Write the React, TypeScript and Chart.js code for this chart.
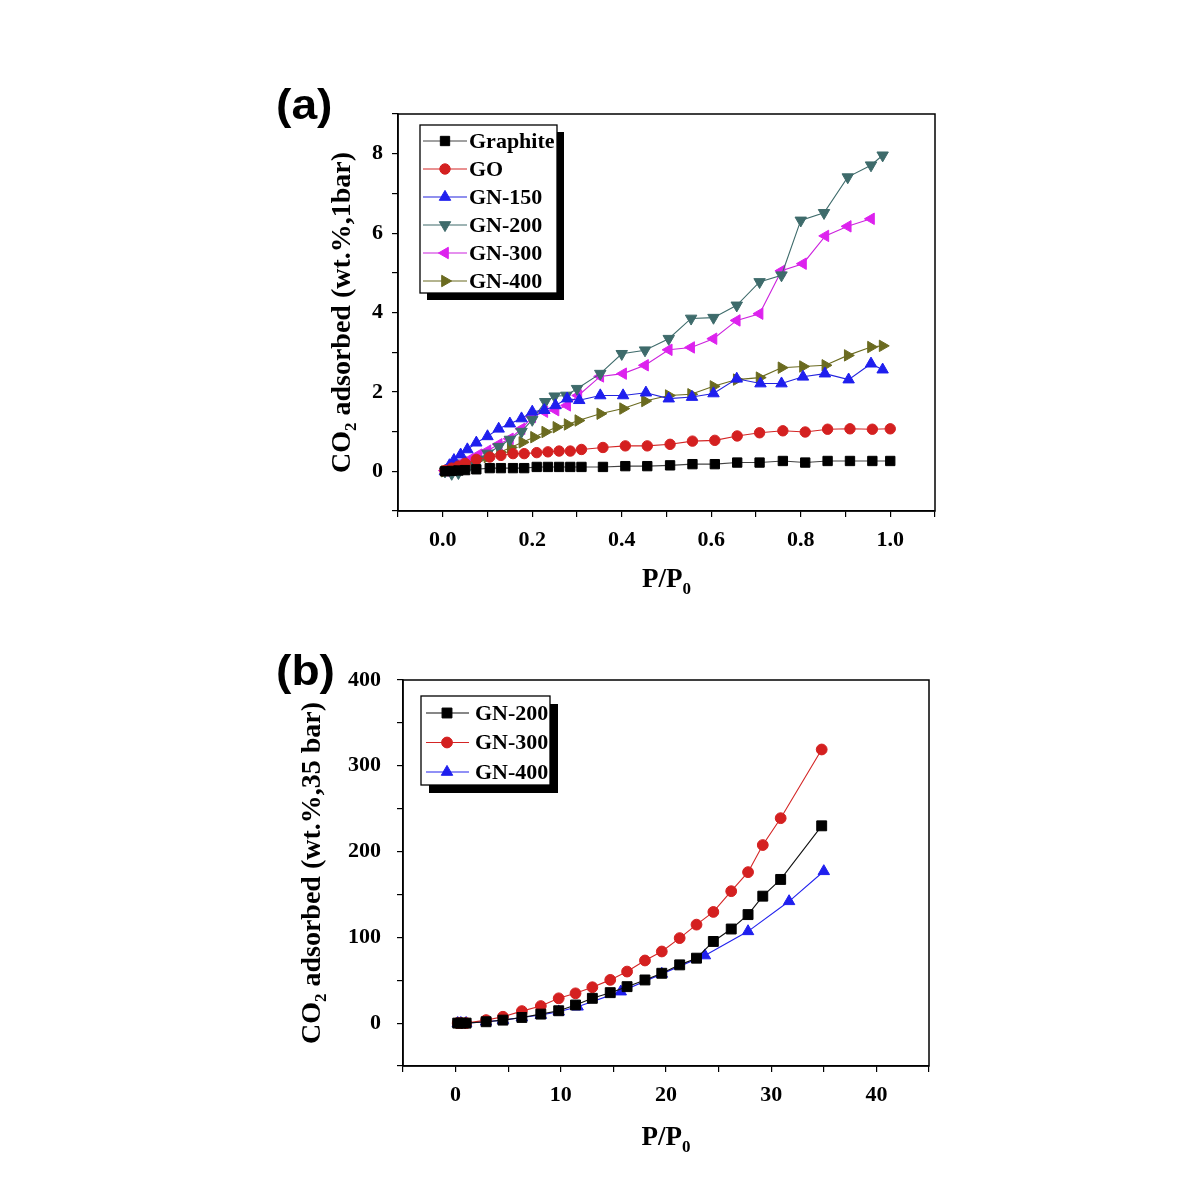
import React, { useEffect, useRef } from 'react';
import { Chart, registerables } from 'chart.js';
import { drawPoint } from 'chart.js/helpers';

Chart.register(...registerables);

const SERIF = '"Liberation Serif", "Times New Roman", serif';
const SANS = '"Liberation Sans", Arial, sans-serif';

// ---------- Panel (a): CO2 adsorbed at 1 bar ----------
const aMajorX = [0, 0.2, 0.4, 0.6, 0.8, 1.0];
const aMajorY = [0, 2, 4, 6, 8];

const graphiteX = [0.005, 0.02, 0.035, 0.05, 0.075, 0.105, 0.13, 0.157, 0.182, 0.21, 0.235, 0.26, 0.285, 0.31, 0.358, 0.408, 0.457, 0.508, 0.558, 0.608, 0.658, 0.708, 0.76, 0.81, 0.86, 0.91, 0.96, 1.0];
const graphiteY = [0, 0.01, 0.02, 0.03, 0.05, 0.08, 0.08, 0.08, 0.08, 0.11, 0.11, 0.11, 0.11, 0.11, 0.11, 0.13, 0.13, 0.15, 0.18, 0.18, 0.22, 0.22, 0.26, 0.22, 0.26, 0.26, 0.26, 0.26];

const goX = [0.005, 0.02, 0.035, 0.05, 0.075, 0.105, 0.13, 0.157, 0.182, 0.21, 0.235, 0.26, 0.285, 0.31, 0.358, 0.408, 0.457, 0.508, 0.558, 0.608, 0.658, 0.708, 0.76, 0.81, 0.86, 0.91, 0.96, 1.0];
const goY = [0.02, 0.08, 0.13, 0.2, 0.3, 0.36, 0.4, 0.445, 0.445, 0.47, 0.49, 0.51, 0.51, 0.55, 0.6, 0.64, 0.64, 0.68, 0.76, 0.78, 0.89, 0.97, 1.02, 0.99, 1.06, 1.07, 1.06, 1.07];

const gn150X = [0.005, 0.015, 0.025, 0.04, 0.055, 0.075, 0.1, 0.125, 0.15, 0.176, 0.2, 0.227, 0.252, 0.278, 0.305, 0.352, 0.403, 0.454, 0.505, 0.557, 0.605, 0.657, 0.71, 0.757, 0.805, 0.854, 0.907, 0.957, 0.983];
const gn150Y = [0.0, 0.15, 0.28, 0.42, 0.55, 0.72, 0.88, 1.07, 1.2, 1.33, 1.5, 1.54, 1.66, 1.83, 1.79, 1.91, 1.91, 1.98, 1.83, 1.87, 1.96, 2.33, 2.21, 2.21, 2.38, 2.46, 2.31, 2.71, 2.56];

const gn200X = [0.005, 0.02, 0.035, 0.06, 0.08, 0.1, 0.125, 0.15, 0.176, 0.2, 0.229, 0.25, 0.276, 0.3, 0.352, 0.4, 0.452, 0.505, 0.555, 0.605, 0.657, 0.708, 0.757, 0.8, 0.852, 0.905, 0.957, 0.983];
const gn200Y = [0.0, -0.06, -0.04, 0.15, 0.3, 0.45, 0.62, 0.8, 1.0, 1.3, 1.75, 1.89, 1.91, 2.08, 2.46, 2.96, 3.05, 3.34, 3.85, 3.87, 4.18, 4.77, 4.94, 6.32, 6.51, 7.41, 7.71, 7.96];

const gn300aX = [0.005, 0.02, 0.04, 0.06, 0.08, 0.1, 0.125, 0.15, 0.176, 0.2, 0.227, 0.252, 0.278, 0.303, 0.352, 0.403, 0.452, 0.505, 0.555, 0.605, 0.657, 0.708, 0.757, 0.805, 0.855, 0.905, 0.957];
const gn300aY = [0.02, 0.1, 0.2, 0.3, 0.42, 0.52, 0.68, 0.82, 1.07, 1.37, 1.5, 1.54, 1.66, 1.91, 2.39, 2.46, 2.67, 3.06, 3.12, 3.34, 3.8, 3.97, 5.05, 5.23, 5.93, 6.17, 6.36];

const gn400aX = [0.005, 0.013, 0.025, 0.043, 0.06, 0.08, 0.1, 0.128, 0.152, 0.178, 0.204, 0.229, 0.254, 0.279, 0.303, 0.352, 0.403, 0.452, 0.505, 0.555, 0.605, 0.657, 0.708, 0.757, 0.805, 0.855, 0.905, 0.957, 0.983];
const gn400aY = [0.0, 0.03, 0.08, 0.15, 0.22, 0.3, 0.36, 0.48, 0.6, 0.73, 0.86, 0.99, 1.11, 1.18, 1.28, 1.45, 1.58, 1.77, 1.91, 1.94, 2.14, 2.31, 2.36, 2.61, 2.64, 2.67, 2.92, 3.13, 3.16];

// ---------- Panel (b): CO2 adsorbed up to 35 bar ----------
const bMajorX = [0, 10, 20, 30, 40];
const bMajorY = [0, 100, 200, 300, 400];

const bX = [0.2, 0.5, 1.0, 2.9, 4.5, 6.3, 8.1, 9.8, 11.4, 13.0, 14.7, 16.3, 18.0, 19.6, 21.3, 22.9, 24.5, 26.2, 27.8, 29.2, 30.9, 34.8];
const gn200bY = [0, 0, 0, 1.6, 3.5, 6.6, 10.5, 14.4, 21.1, 28.9, 35.5, 42.5, 50.3, 58.1, 67.9, 75.7, 95.2, 109.7, 126.5, 148, 167.5, 230];
const gn300bY = [0, 0, 0, 3.5, 7.4, 14, 19.9, 28.9, 34.7, 41.8, 50.4, 60.1, 73, 83.5, 99.1, 114.8, 129.6, 153.8, 176, 207.6, 238.9, 319];
const gn400bX = [0.2, 0.5, 1.0, 2.9, 4.5, 6.3, 8.1, 9.8, 11.6, 15.7, 19.6, 23.7, 27.8, 31.7, 35.0];
const gn400bY = [0, 0, 0, 1.6, 3.5, 6.6, 9.4, 13.3, 19.1, 36.7, 57.4, 78.8, 107, 142, 177];

const zip = (xs: number[], ys: number[]) => xs.map((x, i) => ({ x, y: ys[i] }));

function ds(label: string, xs: number[], ys: number[], line: string, mark: string, style: string, radius: number, rotation = 0) {
  return {
    label,
    data: zip(xs, ys),
    showLine: true,
    borderColor: line,
    borderWidth: 1.1,
    pointBackgroundColor: mark,
    pointBorderColor: mark,
    pointBorderWidth: 1,
    pointStyle: style,
    pointRadius: radius,
    pointRotation: rotation,
    tension: 0,
  };
}

function drawRich(ctx: CanvasRenderingContext2D, parts: { t: string; sub?: boolean }[], size: number) {
  const big = `bold ${size}px ${SERIF}`;
  const small = `bold ${Math.round(size * 0.62)}px ${SERIF}`;
  let total = 0;
  const widths = parts.map((p) => {
    ctx.font = p.sub ? small : big;
    const w = ctx.measureText(p.t).width;
    total += w;
    return w;
  });
  let x = -total / 2;
  ctx.textAlign = 'left';
  ctx.textBaseline = 'alphabetic';
  parts.forEach((p, i) => {
    ctx.font = p.sub ? small : big;
    ctx.fillText(p.t, x, p.sub ? size * 0.58 : size * 0.35);
    x += widths[i];
  });
}

type PanelCfg = {
  tag: string;
  tagX: number;
  tagY: number;
  yTitle: string;
  yTitleDx: number;
  xTitleDy: number;
  legend: { x: number; y: number; w: number; h: number; shadow: number; first: number; step: number; l0: number; l1: number; m: number; tx: number };
};

function makeDecor(cfg: PanelCfg) {
  return {
    id: 'decor',
    afterDraw(chart: any) {
      const { ctx, chartArea: ca } = chart;
      ctx.save();
      // frame
      ctx.strokeStyle = '#000';
      ctx.lineWidth = 1.5;
      ctx.strokeRect(ca.left, ca.top, ca.right - ca.left, ca.bottom - ca.top);
      // legend
      const L = cfg.legend;
      const bx = ca.left + L.x;
      const by = ca.top + L.y;
      ctx.fillStyle = '#000';
      ctx.fillRect(bx + L.shadow, by + L.shadow, L.w, L.h);
      ctx.fillStyle = '#fff';
      ctx.fillRect(bx, by, L.w, L.h);
      ctx.lineWidth = 1.3;
      ctx.strokeStyle = '#000';
      ctx.strokeRect(bx, by, L.w, L.h);
      chart.data.datasets.forEach((d: any, i: number) => {
        const y = by + L.first + i * L.step;
        ctx.strokeStyle = d.borderColor;
        ctx.lineWidth = 1.2;
        ctx.beginPath();
        ctx.moveTo(bx + L.l0, y);
        ctx.lineTo(bx + L.l1, y);
        ctx.stroke();
        ctx.fillStyle = d.pointBackgroundColor;
        ctx.strokeStyle = d.pointBorderColor;
        ctx.lineWidth = 1;
        drawPoint(ctx, { pointStyle: d.pointStyle, radius: d.pointRadius, rotation: d.pointRotation, borderWidth: 1 }, bx + L.m, y);
        ctx.fillStyle = '#000';
        ctx.font = `bold 22px ${SERIF}`;
        ctx.textAlign = 'left';
        ctx.textBaseline = 'middle';
        ctx.fillText(d.label, bx + L.tx, y + 1);
      });
      // y title
      ctx.fillStyle = '#000';
      ctx.save();
      ctx.translate(ca.left + cfg.yTitleDx, (ca.top + ca.bottom) / 2);
      ctx.rotate(-Math.PI / 2);
      drawRich(ctx, [{ t: 'CO' }, { t: '2', sub: true }, { t: cfg.yTitle }], 28);
      ctx.restore();
      // x title
      ctx.save();
      ctx.translate((ca.left + ca.right) / 2, ca.bottom + cfg.xTitleDy);
      drawRich(ctx, [{ t: 'P/P' }, { t: '0', sub: true }], 27);
      ctx.restore();
      // panel tag
      ctx.save();
      ctx.translate(cfg.tagX, cfg.tagY);
      ctx.scale(1.1, 1);
      ctx.font = `bold 42px ${SANS}`;
      ctx.textAlign = 'left';
      ctx.textBaseline = 'alphabetic';
      ctx.fillText(cfg.tag, 0, 0);
      ctx.restore();
      ctx.restore();
    },
  };
}

function axis(min: number, max: number, step: number, majors: number[], digits: number, pad: number, fit: (s: any) => void) {
  return {
    type: 'linear' as const,
    min,
    max,
    afterFit: fit,
    ticks: {
      stepSize: step,
      autoSkip: false,
      maxRotation: 0,
      padding: pad,
      color: '#000',
      font: { family: SERIF, size: 22, weight: 'bold' as const },
      callback: (v: number) => (majors.some((m) => Math.abs(m - v) < step / 10) ? Number(v).toFixed(digits) : ''),
    },
    grid: { display: true, drawOnChartArea: false, drawTicks: true, tickLength: 6, color: '#000', lineWidth: 1.2 },
    border: { display: true, color: '#000', width: 1.5 },
  };
}

function ChartPanel(props: { left: number; top: number; build: (c: HTMLCanvasElement) => Chart }) {
  const ref = useRef<HTMLCanvasElement | null>(null);
  useEffect(() => {
    if (!ref.current) return;
    const chart = props.build(ref.current);
    return () => chart.destroy();
  }, []);
  return (
    <div style={{ position: 'absolute', left: props.left, top: props.top, width: 710, height: 540 }}>
      <canvas ref={ref} width={710} height={540} style={{ width: 710, height: 540, display: 'block' }} />
    </div>
  );
}

function buildA(canvas: HTMLCanvasElement) {
  const decor = makeDecor({
    tag: '(a)',
    tagX: 26,
    tagY: 39,
    yTitle: ' adsorbed (wt.%,1bar)',
    yTitleDx: -58,
    xTitleDy: 67,
    legend: { x: 22, y: 11, w: 137, h: 168, shadow: 7, first: 16, step: 28, l0: 3, l1: 47, m: 25, tx: 49 },
  });
  return new Chart(canvas, {
    type: 'scatter',
    data: {
      datasets: [
        ds('Graphite', graphiteX, graphiteY, '#444444', '#000000', 'rect', 6.6),
        ds('GO', goX, goY, '#d42525', '#d42020', 'circle', 5.2),
        ds('GN-150', gn150X, gn150Y, '#2222dd', '#1f1fee', 'triangle', 6.6),
        ds('GN-200', gn200X, gn200Y, '#3e6b6b', '#3e6b6b', 'triangle', 6.6, 180),
        ds('GN-300', gn300aX, gn300aY, '#cc22dd', '#dd22ee', 'triangle', 6.6, 270),
        ds('GN-400', gn400aX, gn400aY, '#6b6b20', '#6b6b20', 'triangle', 6.6, 90),
      ] as any,
    },
    options: {
      responsive: false,
      animation: false,
      devicePixelRatio: 1,
      layout: { padding: { left: 0, right: 25, top: 34, bottom: 0 } },
      plugins: { legend: { display: false }, tooltip: { enabled: false } },
      scales: {
        x: axis(-0.1, 1.1, 0.1, aMajorX, 1, 10, (s: any) => { s.height = 109; }),
        y: axis(-1, 9, 1, aMajorY, 0, 9, (s: any) => { s.width = 148; }),
      },
    } as any,
    plugins: [decor],
  });
}

function buildB(canvas: HTMLCanvasElement) {
  const decor = makeDecor({
    tag: '(b)',
    tagX: 26,
    tagY: 45,
    yTitle: ' adsorbed (wt.%,35 bar)',
    yTitleDx: -93,
    xTitleDy: 70,
    legend: { x: 18, y: 16, w: 129, h: 89, shadow: 8, first: 17, step: 29.5, l0: 5, l1: 48, m: 26, tx: 54 },
  });
  return new Chart(canvas, {
    type: 'scatter',
    data: {
      datasets: [
        ds('GN-200', bX, gn200bY, '#111111', '#000000', 'rect', 7),
        ds('GN-300', bX, gn300bY, '#d42525', '#d42020', 'circle', 5.4),
        ds('GN-400', gn400bX, gn400bY, '#2222ee', '#1f1fee', 'triangle', 6.6),
      ] as any,
    },
    options: {
      responsive: false,
      animation: false,
      devicePixelRatio: 1,
      layout: { padding: { left: 0, right: 31, top: 40, bottom: 0 } },
      plugins: { legend: { display: false }, tooltip: { enabled: false } },
      scales: {
        x: axis(-5, 45, 5, bMajorX, 0, 10, (s: any) => { s.height = 114; }),
        y: axis(-50, 400, 50, bMajorY, 0, 16, (s: any) => { s.width = 153; }),
      },
    } as any,
    plugins: [decor],
  });
}

export default function App() {
  return (
    <div style={{ position: 'absolute', left: 0, top: 0, width: 1184, height: 1180, background: '#fff' }}>
      <ChartPanel left={250} top={80} build={buildA} />
      <ChartPanel left={250} top={640} build={buildB} />
    </div>
  );
}
